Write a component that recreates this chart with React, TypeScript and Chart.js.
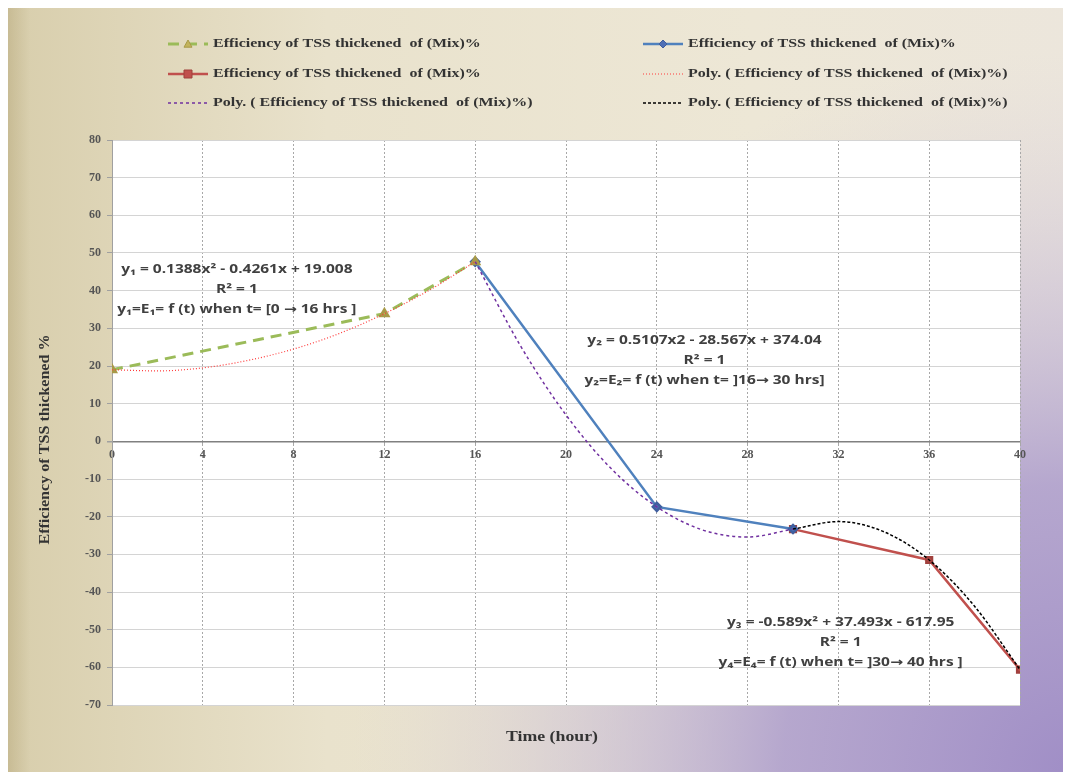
import React, { useEffect, useRef } from 'react';
import { Chart, registerables } from 'chart.js';

Chart.register(...registerables);

// ---------- data ----------
const seriesLabel = 'Efficiency of TSS thickened  of (Mix)%';
const polyLabel = 'Poly. ( Efficiency of TSS thickened  of (Mix)%)';

const stage1Time = [0, 12, 16];
const stage1Eff = [19.0, 33.9, 47.7];
const stage2Time = [16, 24, 30];
const stage2Eff = [47.7, -17.4, -23.3];
const stage3Time = [30, 36, 40];
const stage3Eff = [-23.3, -31.5, -60.6];

const poly1Time = [0, 2, 4, 6, 8, 10, 12, 14, 16];
const poly1Eff = [19.0, 18.7, 19.5, 21.5, 24.5, 28.6, 33.9, 40.2, 47.7];
const poly2Time = [16, 18, 20, 22, 24, 26, 28, 30];
const poly2Eff = [47.7, 25.3, 7.0, -7.3, -17.4, -23.5, -25.4, -23.3];
const poly3Time = [30, 32, 34, 36, 38, 40];
const poly3Eff = [-23.3, -21.3, -24.0, -31.5, -43.8, -60.6];

const xTickMin = 0;
const xTickMax = 40;
const xTickStep = 4;
const yTickMin = -70;
const yTickMax = 80;
const yTickStep = 10;

const xTitle = 'Time (hour)';
const yTitle = 'Efficiency of TSS thickened %';

const eq1Lines = ['y\u2081 = 0.1388x\u00b2 - 0.4261x + 19.008', 'R\u00b2 = 1', 'y\u2081=E\u2081= f (t) when t= [0 \u2192 16 hrs ]'];
const eq2Lines = ['y\u2082 = 0.5107x2 - 28.567x + 374.04', 'R\u00b2 = 1', 'y\u2082=E\u2082= f (t) when t= ]16\u2192 30 hrs]'];
const eq3Lines = ['y\u2083 = -0.589x\u00b2 + 37.493x - 617.95', 'R\u00b2 = 1', 'y\u2084=E\u2084= f (t) when t= ]30\u2192 40 hrs ]'];
const eqAnchorX = [5.5, 26.1, 32.1];
const eqAnchorY = [45.7, 26.8, -48.0];

const toPts = (xs: number[], ys: number[]) => xs.map((x, i) => ({ x, y: ys[i] }));

// ---------- layout constants ----------
const W = 1071;
const H = 772;
const VW = 1063;
const VH = 764;
const SERIF = '"Liberation Serif", "Times New Roman", serif';
const SANS = '"Open Sans", "DejaVu Sans", sans-serif';
const TEXT_STRETCH = 1.29;

function fillStretched(ctx: CanvasRenderingContext2D, text: string, x: number, y: number, sx: number) {
  ctx.save();
  ctx.translate(x, y);
  ctx.scale(sx, 1);
  ctx.fillText(text, 0, 0);
  ctx.restore();
}

function drawMarker(ctx: CanvasRenderingContext2D, style: string, x: number, y: number, r: number, fill: string, stroke: string) {
  ctx.save();
  ctx.setLineDash([]);
  ctx.fillStyle = fill;
  ctx.strokeStyle = stroke;
  ctx.lineWidth = 1;
  ctx.beginPath();
  if (style === 'triangle') {
    ctx.moveTo(x, y - r);
    ctx.lineTo(x + r, y + r * 0.8);
    ctx.lineTo(x - r, y + r * 0.8);
    ctx.closePath();
  } else if (style === 'rectRot') {
    ctx.moveTo(x, y - r);
    ctx.lineTo(x + r, y);
    ctx.lineTo(x, y + r);
    ctx.lineTo(x - r, y);
    ctx.closePath();
  } else {
    ctx.rect(x - r, y - r, 2 * r, 2 * r);
  }
  ctx.fill();
  ctx.stroke();
  ctx.restore();
}

const decorPlugin = {
  id: 'decor',
  beforeDraw(chart: any) {
    const { ctx, chartArea } = chart;
    ctx.save();
    const g = ctx.createLinearGradient(0, 0, VW, 0);
    g.addColorStop(0, '#d8ceac');
    g.addColorStop(0.3, '#e9e2cc');
    g.addColorStop(0.7, '#ede7d6');
    g.addColorStop(1, '#ece6dc');
    ctx.fillStyle = g;
    ctx.fillRect(0, 0, W, H);
    const r = ctx.createRadialGradient(VW, VH, 0, VW, VH, 720);
    r.addColorStop(0, 'rgba(160,142,198,1)');
    r.addColorStop(0.4, 'rgba(172,156,204,0.85)');
    r.addColorStop(0.72, 'rgba(196,184,214,0.4)');
    r.addColorStop(1, 'rgba(220,210,220,0)');
    ctx.fillStyle = r;
    ctx.fillRect(0, 0, W, H);
    const s = ctx.createLinearGradient(0, 0, 22, 0);
    s.addColorStop(0, 'rgba(180,165,120,0.45)');
    s.addColorStop(1, 'rgba(180,165,120,0)');
    ctx.fillStyle = s;
    ctx.fillRect(0, 0, 22, H);
    ctx.fillStyle = '#ffffff';
    ctx.fillRect(chartArea.left, chartArea.top, chartArea.right - chartArea.left, chartArea.bottom - chartArea.top);
    ctx.restore();
  },
  afterDraw(chart: any) {
    const { ctx, chartArea, scales } = chart;
    ctx.save();
    // axis titles
    ctx.fillStyle = '#333333';
    ctx.textAlign = 'center';
    ctx.textBaseline = 'middle';
    ctx.font = `bold 14px ${SERIF}`;
    ctx.save();
    ctx.translate(37, (chartArea.top + chartArea.bottom) / 2 + 17);
    ctx.rotate(-Math.PI / 2);
    ctx.scale(1.15, 1);
    ctx.fillText(yTitle, 0, 0);
    ctx.restore();
    ctx.font = `bold 14px ${SERIF}`;
    fillStretched(ctx, xTitle, 544, 729, 1.27);

    // equations
    ctx.fillStyle = '#404040';
    ctx.font = `bold 12px ${SANS}`;
    const blocks = [eq1Lines, eq2Lines, eq3Lines];
    blocks.forEach((lines, b) => {
      const cx = scales.x.getPixelForValue(eqAnchorX[b]);
      const cy = scales.y.getPixelForValue(eqAnchorY[b]);
      lines.forEach((t, i) => fillStretched(ctx, t, cx, cy + i * 20, TEXT_STRETCH));
    });

    // legend
    const ds = chart.data.datasets;
    const pos = [
      [160, 36], [635, 36],
      [160, 66], [635, 66],
      [160, 95], [635, 95],
    ];
    ctx.font = `bold 12px ${SERIF}`;
    ctx.textAlign = 'left';
    ds.forEach((d: any, i: number) => {
      const [x, y] = pos[i];
      ctx.save();
      ctx.strokeStyle = d.borderColor;
      ctx.lineWidth = d.borderWidth;
      ctx.setLineDash(d.borderDash || []);
      ctx.beginPath();
      ctx.moveTo(x, y);
      ctx.lineTo(x + 40, y);
      ctx.stroke();
      ctx.restore();
      if (d.pointRadius > 0) {
        drawMarker(ctx, d.pointStyle, x + 20, y, d.pointRadius, d.pointBackgroundColor, d.pointBorderColor);
      }
      ctx.fillStyle = '#333333';
      fillStretched(ctx, d.label, x + 45, y, 1.33);
    });
    ctx.restore();
  },
};

export default function App() {
  const ref = useRef<HTMLCanvasElement | null>(null);

  useEffect(() => {
    document.documentElement.style.overflow = 'hidden';
    if (!ref.current) return;
    const chart = new Chart(ref.current, {
      type: 'line',
      data: {
        datasets: [
          {
            label: seriesLabel,
            data: toPts(stage1Time, stage1Eff),
            borderColor: '#9bbb59',
            borderWidth: 3,
            borderDash: [11, 7],
            pointStyle: 'triangle',
            pointRadius: 4,
            pointBackgroundColor: '#c3b35c',
            pointBorderColor: '#a89a48',
            tension: 0,
            order: 2,
          },
          {
            label: seriesLabel,
            data: toPts(stage2Time, stage2Eff),
            borderColor: '#4f81bd',
            borderWidth: 2.5,
            pointStyle: 'rectRot',
            pointRadius: 4,
            pointBackgroundColor: '#4f6fb5',
            pointBorderColor: '#3f5f9f',
            tension: 0,
            order: 2,
          },
          {
            label: seriesLabel,
            data: toPts(stage3Time, stage3Eff),
            borderColor: '#c0504d',
            borderWidth: 2.5,
            pointStyle: 'rect',
            pointRadius: 4,
            pointBackgroundColor: '#c0504d',
            pointBorderColor: '#a0403d',
            tension: 0,
            order: 2,
          },
          {
            label: polyLabel,
            data: toPts(poly1Time, poly1Eff),
            borderColor: '#ff3b3b',
            borderWidth: 1.2,
            borderDash: [1, 2],
            pointRadius: 0,
            cubicInterpolationMode: 'monotone',
            order: 1,
          },
          {
            label: polyLabel,
            data: toPts(poly2Time, poly2Eff),
            borderColor: '#7030a0',
            borderWidth: 1.5,
            borderDash: [3, 3],
            pointRadius: 0,
            cubicInterpolationMode: 'monotone',
            order: 1,
          },
          {
            label: polyLabel,
            data: toPts(poly3Time, poly3Eff),
            borderColor: '#000000',
            borderWidth: 1.5,
            borderDash: [3, 2],
            pointRadius: 0,
            cubicInterpolationMode: 'monotone',
            order: 1,
          },
        ] as any,
      },
      options: {
        responsive: false,
        animation: false,
        devicePixelRatio: 1,
        layout: { padding: { left: 64, right: 59, top: 132, bottom: 75 } },
        plugins: { legend: { display: false }, tooltip: { enabled: false } },
        scales: {
          x: {
            type: 'linear',
            min: xTickMin,
            max: xTickMax,
            position: { y: 0 } as any,
            afterFit: (s: any) => { s.height = 0; },
            ticks: {
              stepSize: xTickStep,
              color: '#555555',
              padding: 2,
              font: { family: SERIF, size: 12, weight: 'bold' },
            },
            grid: { color: '#a8a8a8', lineWidth: 1, drawTicks: true, tickLength: 4 },
            border: { display: false, dash: [2, 2] },
          },
          y: {
            type: 'linear',
            min: yTickMin,
            max: yTickMax,
            afterFit: (s: any) => { s.width = 40; },
            ticks: {
              stepSize: yTickStep,
              color: '#555555',
              padding: 6,
              font: { family: SERIF, size: 12, weight: 'bold' },
            },
            grid: {
              color: (c: any) => (c.tick && c.tick.value === 0 ? '#808080' : '#d4d4d4'),
              lineWidth: (c: any) => (c.tick && c.tick.value === 0 ? 1.5 : 1),
              tickLength: 5,
              tickColor: '#a0a0a0',
            },
            border: { display: true, color: '#a0a0a0', width: 1 },
          },
        },
      } as any,
      plugins: [decorPlugin],
    });
    return () => chart.destroy();
  }, []);

  return (
    <div style={{ width: W, height: H }}>
      <canvas ref={ref} width={W} height={H} style={{ display: 'block', width: W, height: H }} />
    </div>
  );
}
